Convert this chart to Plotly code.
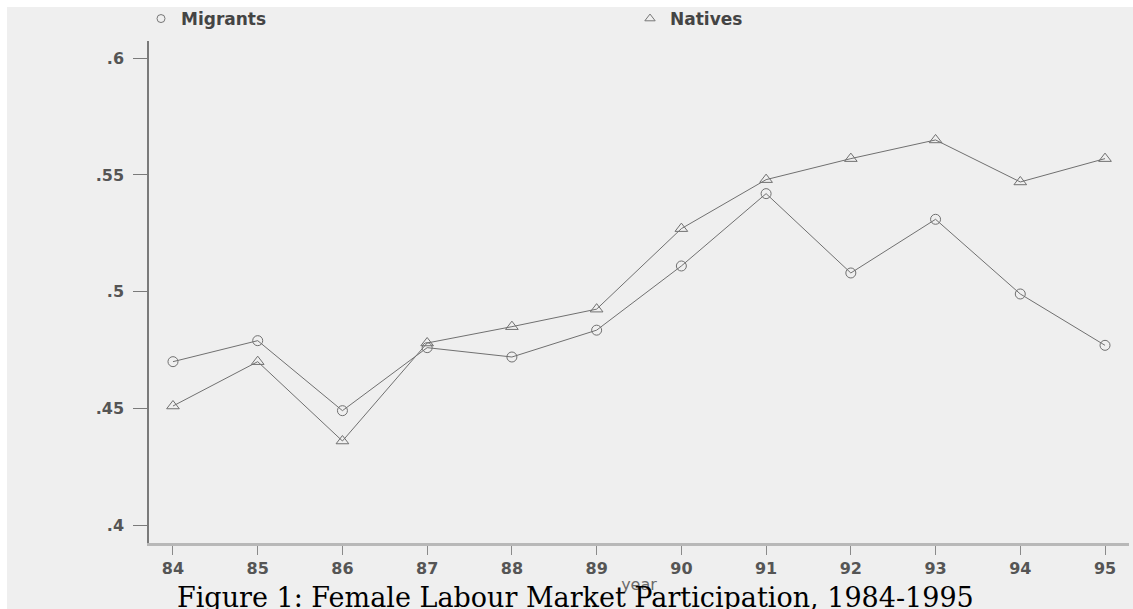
import plotly.graph_objects as go

# ---- data ----
years = [84, 85, 86, 87, 88, 89, 90, 91, 92, 93, 94, 95]
year_labels = ["84", "85", "86", "87", "88", "89", "90", "91", "92", "93", "94", "95"]
migrants = [0.470, 0.479, 0.449, 0.476, 0.472, 0.4835, 0.511, 0.542, 0.508, 0.531, 0.499, 0.477]
natives = [0.451, 0.470, 0.436, 0.478, 0.485, 0.4925, 0.527, 0.548, 0.557, 0.565, 0.547, 0.557]
y_ticks = [0.40, 0.45, 0.50, 0.55, 0.60]
y_tick_labels = [".4", ".45", ".5", ".55", ".6"]
caption = "Figure 1: Female Labour Market Participation, 1984-1995"

W, H = 1133, 609
L, R, T, B = 149, 4, 41, 66
PW, PH = W - L - R, H - T - B

def px_x(px):
    return (px - L) / PW

def px_y(py):
    return (H - B - py) / PH

LINE = "#707070"
TICKFONT = dict(family="DejaVu Sans", size=16, color="#555555", weight="bold")

fig = go.Figure()
fig.add_trace(go.Scatter(
    x=years, y=migrants, mode="lines+markers", name="Migrants", showlegend=False,
    line=dict(color=LINE, width=1),
    marker=dict(symbol="circle-open", size=10, color=LINE, line=dict(width=1)),
))
fig.add_trace(go.Scatter(
    x=years, y=natives, mode="lines+markers", name="Natives", showlegend=False,
    line=dict(color=LINE, width=1),
    marker=dict(symbol="triangle-up-open", size=11, color=LINE, line=dict(width=1)),
))
# legend entries (marker only, as in the reference)
fig.add_trace(go.Scatter(
    x=[None], y=[None], mode="markers", name="Migrants",
    marker=dict(symbol="circle-open", size=8, color="#777777", line=dict(width=1)),
))
fig.add_trace(go.Scatter(
    x=[None], y=[None], mode="markers", name="Natives",
    marker=dict(symbol="triangle-up-open", size=9, color="#777777", line=dict(width=1)),
))

fig.update_layout(
    width=W, height=H,
    margin=dict(l=L, r=R, t=T, b=B, pad=0, autoexpand=False),
    paper_bgcolor="white",
    plot_bgcolor="rgba(0,0,0,0)",
    showlegend=True,
    legend=dict(
        orientation="h", x=px_x(141), y=px_y(19), xanchor="left", yanchor="middle",
        entrywidth=444, entrywidthmode="pixels",
        font=dict(family="DejaVu Sans", size=17, color="#444444", weight="bold"),
        bgcolor="rgba(0,0,0,0)", itemwidth=30,
    ),
    xaxis=dict(
        range=[83.717, 95.283], tickmode="array", tickvals=years, ticktext=year_labels,
        showgrid=False, zeroline=False, showline=True, linecolor="#b8b8b8", linewidth=2.5,
        ticks="outside", ticklen=9, tickcolor="#8a8a8a", tickwidth=1,
        tickfont=TICKFONT, automargin=False,
        title=dict(text="year", font=dict(family="DejaVu Sans", size=16, color="#6a6a6a"), standoff=2),
    ),
    yaxis=dict(
        range=[0.3923, 0.6074], tickmode="array", tickvals=y_ticks, ticktext=y_tick_labels,
        showgrid=False, zeroline=False, showline=True, linecolor="#7a7a7a", linewidth=1.5,
        ticks="outside", ticklen=14, tickcolor="#7a7a7a", tickwidth=1,
        tickfont=TICKFONT, automargin=False, ticklabelstandoff=6,
    ),
    shapes=[dict(
        type="rect", xref="paper", yref="paper", layer="below",
        x0=px_x(7), x1=px_x(W), y0=px_y(H), y1=px_y(7),
        fillcolor="#efefef", line=dict(width=0),
    )],
    annotations=[dict(
        text=caption, xref="paper", yref="paper", x=px_x(575), y=px_y(580),
        xanchor="center", yanchor="top", showarrow=False,
        font=dict(family="DejaVu Serif", size=27, color="#000000"),
    )],
)

fig.write_html("out.html", config={"displayModeBar": False},
               post_script="document.body.style.margin='0px';")
